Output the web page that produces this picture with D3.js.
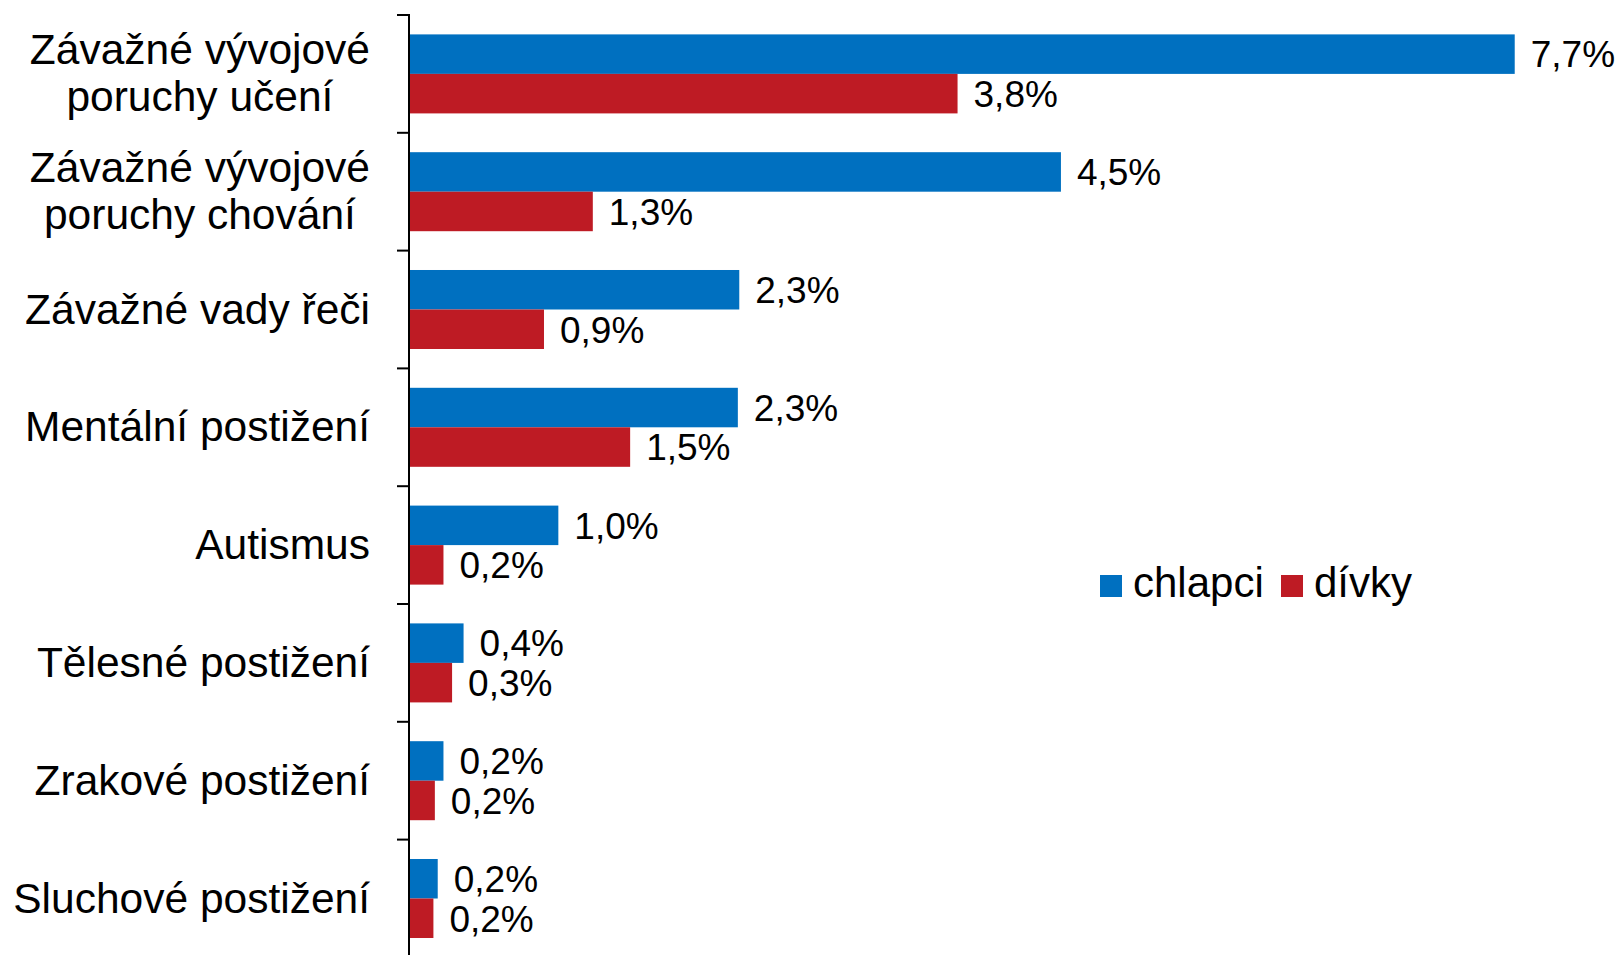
<!DOCTYPE html>
<html>
<head>
<meta charset="utf-8">
<script src="https://cdn.jsdelivr.net/npm/d3@7"></script>
<style>
  body { margin: 0; background: #fff; }
  svg { display: block; font-family: "Liberation Sans", Arial, sans-serif; }
</style>
</head>
<body>
<svg width="1620" height="955"></svg>
<script>
// categories (each label split into its lines)
var categories = [
    ["Závažné vývojové", "poruchy učení"],
    ["Závažné vývojové", "poruchy chování"],
    ["Závažné vady řeči"],
    ["Mentální postižení"],
    ["Autismus"],
    ["Tělesné postižení"],
    ["Zrakové postižení"],
    ["Sluchové postižení"]
];
var seriesNames = ["chlapci", "dívky"];
var chlapci = [7.70, 4.54, 2.30, 2.29, 1.04, 0.38, 0.24, 0.20];     // % boys
var divky   = [3.82, 1.28, 0.94, 1.54, 0.24, 0.30, 0.18, 0.17];     // % girls
var colors = ["#0070C0", "#BE1B24"];

var svg = d3.select("svg"),
    axisX = 409,
    plotTop = 15,
    step = 117.8,
    labelRight = 370;

var keys = categories.map(function (d, i) { return "c" + i; });

var x = d3.scaleLinear()                 // 0 % sits on the axis line
    .domain([0, 8])
    .range([axisX, axisX + 8 * 143.6]);

var y = d3.scaleBand()                   // one band per category
    .domain(keys)
    .range([plotTop, plotTop + step * keys.length])
    .paddingInner(0);

var y1 = d3.scaleBand()                  // boys / girls inside a band
    .domain(seriesNames)
    .range([0, y.bandwidth()])
    .paddingInner(0)
    .paddingOuter(0.491);

var rows = keys.map(function (k, i) {
    return { key: k, label: categories[i], values: [chlapci[i], divky[i]] };
});

// bars
var groups = svg.selectAll("g.cat")
    .data(rows)
    .enter().append("g")
    .attr("class", "cat")
    .attr("transform", function (d) { return "translate(0," + y(d.key) + ")"; });

groups.selectAll("rect")
    .data(function (d) { return d.values.map(function (v, j) { return { s: seriesNames[j], v: v, j: j }; }); })
    .enter().append("rect")
    .attr("x", x(0))
    .attr("y", function (d) { return y1(d.s); })
    .attr("width", function (d) { return x(d.v) - x(0); })
    .attr("height", y1.bandwidth())
    .attr("fill", function (d) { return colors[d.j]; });

// data labels
groups.selectAll("text.val")
    .data(function (d) { return d.values.map(function (v, j) { return { s: seriesNames[j], v: v }; }); })
    .enter().append("text")
    .attr("class", "val")
    .attr("x", function (d) { return x(d.v) + 16; })
    .attr("y", function (d) { return y1(d.s) + y1.bandwidth() / 2; })
    .attr("dy", "0.36em")
    .attr("font-size", 37)
    .attr("fill", "#000")
    .text(function (d) { return d.v.toFixed(1).replace(".", ",") + "%"; });

// category labels (multi-line ones: lines centred, block right-aligned)
groups.each(function (d) {
    var g = d3.select(this),
        cy = y.bandwidth() / 2,
        lh = 47,
        n = d.label.length;
    var t = g.append("text")
        .attr("font-size", 42.5)
        .attr("fill", "#000");
    d.label.forEach(function (line, i) {
        t.append("tspan")
            .attr("y", cy + (i - (n - 1) / 2) * lh)
            .attr("dy", "0.33em")
            .text(line);
    });
    if (n === 1) {
        t.attr("text-anchor", "end").selectAll("tspan").attr("x", labelRight);
    } else {
        var maxW = 0;
        t.selectAll("tspan").each(function () { maxW = Math.max(maxW, this.getComputedTextLength()); });
        t.attr("text-anchor", "middle").selectAll("tspan").attr("x", labelRight - maxW / 2);
    }
});

// vertical axis with ticks on band boundaries
var boundaries = keys.map(function (k) { return y(k); }).concat([y.range()[1]]);
svg.append("line")
    .attr("x1", axisX).attr("x2", axisX)
    .attr("y1", plotTop - 1).attr("y2", y.range()[1])
    .attr("stroke", "#000")
    .attr("stroke-width", 2);
svg.selectAll("line.tick")
    .data(boundaries)
    .enter().append("line")
    .attr("class", "tick")
    .attr("x1", axisX - 12).attr("x2", axisX)
    .attr("y1", function (d) { return d; })
    .attr("y2", function (d) { return d; })
    .attr("stroke", "#000")
    .attr("stroke-width", 2);

// legend
var legendX = [1100, 1281], legendY = 575;
var leg = svg.selectAll("g.legend")
    .data(seriesNames)
    .enter().append("g")
    .attr("class", "legend")
    .attr("transform", function (d, i) { return "translate(" + legendX[i] + "," + legendY + ")"; });
leg.append("rect")
    .attr("width", 22).attr("height", 22)
    .attr("fill", function (d, i) { return colors[i]; });
leg.append("text")
    .attr("x", 33)
    .attr("y", 22)
    .attr("font-size", 42)
    .attr("fill", "#000")
    .text(function (d) { return d; });
</script>
</body>
</html>
